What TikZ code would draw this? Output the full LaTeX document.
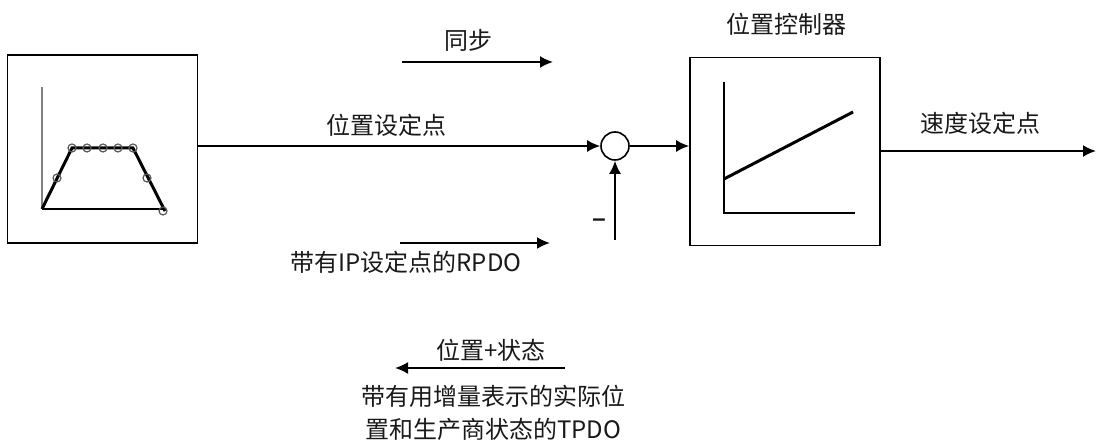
\documentclass[tikz,border=0pt]{standalone}
\usepackage{fontspec}
\setmainfont{Noto Sans CJK SC}
\newfontfamily\latinfont{Liberation Sans}
\usetikzlibrary{arrows.meta}

\begin{document}
\begin{tikzpicture}[x=0.5pt, y=-0.5pt, font = \fontsize{12pt}{16.5pt}\selectfont,
        blockbox/.style = {draw, line width=0.8pt, inner sep=0pt, minimum width=95pt, minimum height=94pt},
        sig/.style = {line width=1pt, -{Latex[length=6.5pt, width=6pt]}},
        lbl/.style = {text=black!90, inner sep=0pt}]
        \useasboundingbox (0,0) rectangle (1097,442);

        % blocks
        \node[blockbox] (traj) at (102.5,149) {};
        \node[blockbox] (ctrl) at (785,151.5) {};
        \node[draw, circle, line width=0.8pt, minimum size=14pt, inner sep=0pt] (sum) at (615,146) {};

        % trajectory inside the left box
        \draw[gray, line width=1pt] (42,87) -- (42,209);
        \draw[line width=0.7pt] (42,209) -- (165,209);
        \draw[line width=1.5pt] (42,209) -- (72,148) -- (133,148) -- (165,211);
        \foreach \px/\py in {57/178, 72/148, 87/148, 103/148, 118/148, 133/148, 147/178, 163/211}
            \draw[black!65, line width=0.6pt] (\px,\py) circle(4);

        % characteristic inside the controller
        \draw[line width=0.7pt] (724,82) -- (724,213) -- (855,213);
        \draw[line width=1.5pt] (724,179) -- (853,112);

        % signal path
        \coordinate (fb) at (615,240);
        \coordinate (vout) at (1096,151);
        \draw[sig] (traj.east |- sum) -- (sum.west);
        \draw[sig] (sum.east) -- (ctrl.west |- sum);
        \draw[sig] (fb) -- (sum.south);
        \draw[sig] (ctrl.east |- vout) -- (vout);

        % bus messages
        \coordinate (syncA) at (402,62);
        \coordinate (syncB) at (553,62);
        \coordinate (rpdoA) at (400,243);
        \coordinate (rpdoB) at (550,243);
        \coordinate (tpdoA) at (565,368);
        \coordinate (tpdoB) at (395,368);
        \draw[sig] (syncA) -- (syncB);
        \draw[sig] (rpdoA) -- (rpdoB);
        \draw[sig] (tpdoA) -- (tpdoB);

        % labels
        \node[lbl] (sync) at (468,40) {同步};
        \node[lbl] (ctrlname) at (786,24) {位置控制器};
        \node[lbl] (possp) at (386,125) {位置设定点};
        \node[lbl] (velsp) at (980,123) {速度设定点};
        \node[lbl, font=\latinfont\bfseries\fontsize{12pt}{14pt}\selectfont] (minus) at (599,223) {–};
        \node[lbl] (rpdo) at (406,262) {带有IP设定点的RPDO};
        \node[lbl] (posstat) at (491,350) {位置+状态};
        \node[lbl, align=center] (tpdo) at (493,413) {带有用增量表示的实际位\\置和生产商状态的TPDO};
\end{tikzpicture}
\end{document}
